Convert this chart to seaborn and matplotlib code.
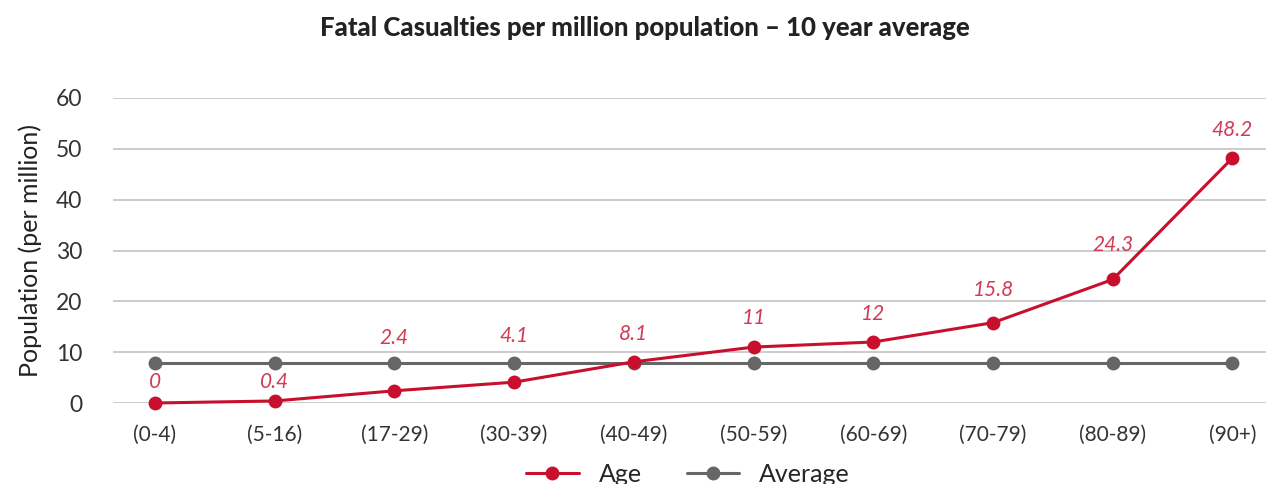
import matplotlib
matplotlib.use("Agg")
import matplotlib.pyplot as plt
import seaborn as sns
import pandas as pd
import numpy as np

# Age bands and fatal casualty rates (per million population, 10 year average)
age_bands = ["(0-4)", "(5-16)", "(17-29)", "(30-39)", "(40-49)",
             "(50-59)", "(60-69)", "(70-79)", "(80-89)", "(90+)"]
age_rates = [0, 0.4, 2.4, 4.1, 8.1, 11, 12, 15.8, 24.3, 48.2]
average_rate = 7.9
# vertical nudge (pixels) for each value label
label_nudge = [21, 19, 53, 46, 28, 29, 28, 33, 34, 28]

RED = "#c8102e"
LABEL_RED = "#d23a55"
GREY = "#666666"

sns.set_theme(style="white")
plt.rcParams["font.family"] = ["Lato", "DejaVu Sans"]

idx = np.arange(len(age_bands))
df = pd.DataFrame({
    "pos": np.concatenate([idx, idx]),
    "value": age_rates + [average_rate] * len(age_bands),
    "series": ["Age"] * len(age_bands) + ["Average"] * len(age_bands),
})

fig = plt.figure(figsize=(12.66, 4.84), dpi=100)
ax = fig.add_axes([113 / 1266, 1 - 403 / 484, 1 - 113 / 1266, (403 - 98) / 484])

sns.lineplot(data=df, x="pos", y="value", hue="series",
             hue_order=["Age", "Average"], palette={"Age": RED, "Average": GREY},
             marker="o", markersize=10, markeredgewidth=0, linewidth=2.2,
             ax=ax, legend=False, clip_on=False)
# red series drawn above the grey average line
for line in ax.lines:
    line.set_zorder(2 if line.get_color() == GREY else 4)

ax.set_ylim(0, 60)
ax.set_xlim(-0.35, 9.28)
ax.set_yticks(range(0, 61, 10))
ax.set_xticks(idx)
ax.set_xticklabels(age_bands)
ax.grid(axis="y", color="#c8c8c8", linewidth=1.3)
ax.set_axisbelow(True)
for s in ax.spines.values():
    s.set_visible(False)
ax.tick_params(axis="y", length=0, pad=22, labelsize=16.5, labelcolor="#333333")
ax.tick_params(axis="x", length=0, pad=16, labelsize=15, labelcolor="#333333")
ax.set_xlabel("")
ax.set_ylabel("Population (per million)", fontsize=18, color="#222222", labelpad=10)

for i, (v, dy) in enumerate(zip(age_rates, label_nudge)):
    ax.annotate(f"{v:g}", (i, v), xytext=(0, dy), textcoords="offset pixels",
                ha="center", va="center", fontsize=15, style="italic",
                color=LABEL_RED)

fig.suptitle("Fatal Casualties per million population – 10 year average",
             x=645 / 1266, y=1 - 28 / 484, va="center", fontsize=18.5,
             fontweight="black", color="#222222")

handles = [
    plt.Line2D([], [], color=RED, marker="o", markersize=10, linewidth=2.2,
               markeredgewidth=0),
    plt.Line2D([], [], color=GREY, marker="o", markersize=10, linewidth=2.2,
               markeredgewidth=0),
]
fig.legend(handles, ["Age", "Average"], loc="center",
           bbox_to_anchor=(688 / 1266, 1 - 474 / 484), ncol=2, frameon=False,
           fontsize=18, handlelength=2.1, columnspacing=1.8, handletextpad=0.8)

fig.savefig("out.png", dpi=100, facecolor="white")
